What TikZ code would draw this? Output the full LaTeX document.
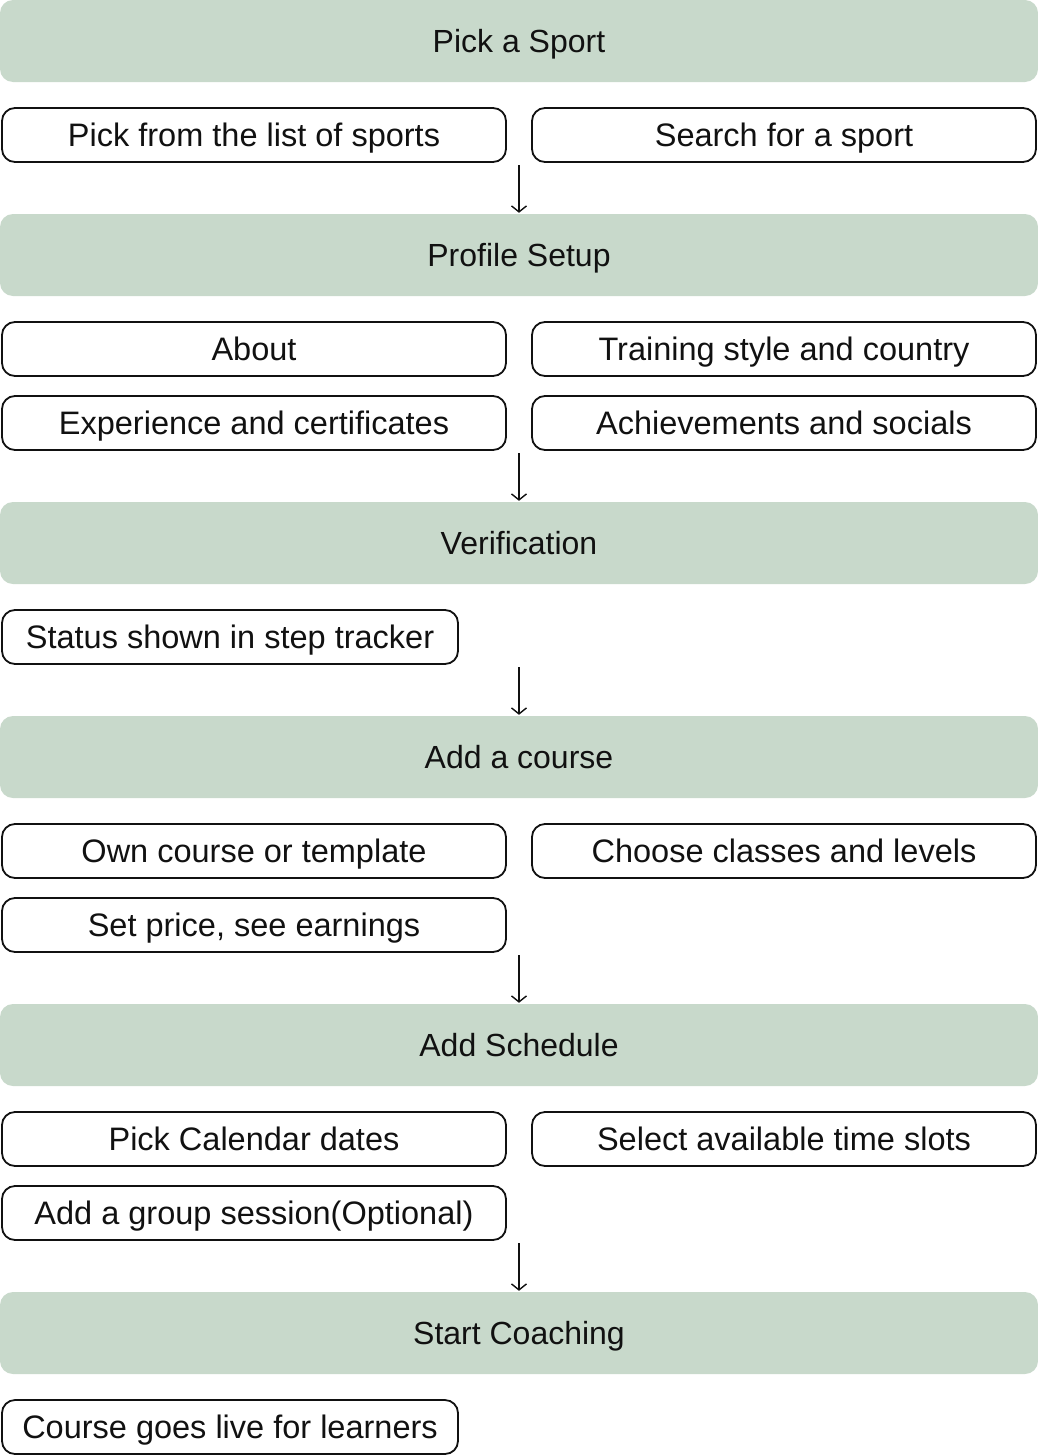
\documentclass[tikz,border=0pt]{standalone}
\usepackage{fontspec}
\setmainfont{Liberation Sans}
\usetikzlibrary{arrows.meta}
\definecolor{stepgreen}{HTML}{C8D9CB}
\definecolor{txt}{HTML}{111111}

\begin{document}
\begin{tikzpicture}
  [
    x=1pt, y=-1pt,
    phase/.style={
      fill=stepgreen, rounded corners=13pt,
      minimum width=1038pt, minimum height=82pt,
      inner sep=0pt, text=txt, font=\fontsize{32}{36}\selectfont,
      text height=23pt, text depth=0pt
    },
    task/.style={
      draw=txt, line width=1.8pt, rounded corners=13pt,
      minimum width=504pt, minimum height=54pt,
      inner sep=0pt, text=txt, font=\fontsize{32.5}{36}\selectfont,
      text height=23.3pt, text depth=0pt
    },
    short/.style={
      task, minimum width=456pt
    },
    next/.style={
      draw=txt, line width=1.4pt,
      -{Straight Barb[length=6pt,width=15pt,line width=1.4pt]}
    }
  ]
\useasboundingbox (0,0) rectangle (1038,1456);

% Pick a Sport
\node (sport)  [phase] at (519,41)   {Pick a Sport};
\node (list)   [task]  at (254,135)  {Pick from the list of sports};
\node (search) [task]  at (784,135)  {Search for a sport};

% Profile Setup
\node (profile) [phase] at (519,255)  {Profile Setup};
\node (about)   [task]  at (254,349)  {About};
\node (style)   [task]  at (784,349)  {Training style and country};
\node (exp)     [task]  at (254,423)  {Experience and certificates};
\node (ach)     [task]  at (784,423)  {Achievements and socials};

% Verification
\node (verify) [phase] at (519,543)  {Verification};
\node (status) [short] at (230,637)  {Status shown in step tracker};

% Add a course
\node (course) [phase] at (519,757)  {Add a course};
\node (own)    [task]  at (254,851)  {Own course or template};
\node (levels) [task]  at (784,851)  {Choose classes and levels};
\node (price)  [task]  at (254,925)  {Set price, see earnings};

% Add Schedule
\node (sched)  [phase] at (519,1045) {Add Schedule};
\node (dates)  [task]  at (254,1139) {Pick Calendar dates};
\node (slots)  [task]  at (784,1139) {Select available time slots};
\node (group)  [task]  at (254,1213) {Add a group session(Optional)};

% Start Coaching
\node (start)  [phase] at (519,1333) {Start Coaching};
\node (live)   [short] at (230,1427) {Course goes live for learners};

% arrows between the steps
\coordinate (a1) at (519,165);
\coordinate (a2) at (519,453);
\coordinate (a3) at (519,667);
\coordinate (a4) at (519,955);
\coordinate (a5) at (519,1243);
\draw [next] (a1) -- ([yshift=1pt]profile.north);
\draw [next] (a2) -- ([yshift=1pt]verify.north);
\draw [next] (a3) -- ([yshift=1pt]course.north);
\draw [next] (a4) -- ([yshift=1pt]sched.north);
\draw [next] (a5) -- ([yshift=1pt]start.north);

\end{tikzpicture}
\end{document}
